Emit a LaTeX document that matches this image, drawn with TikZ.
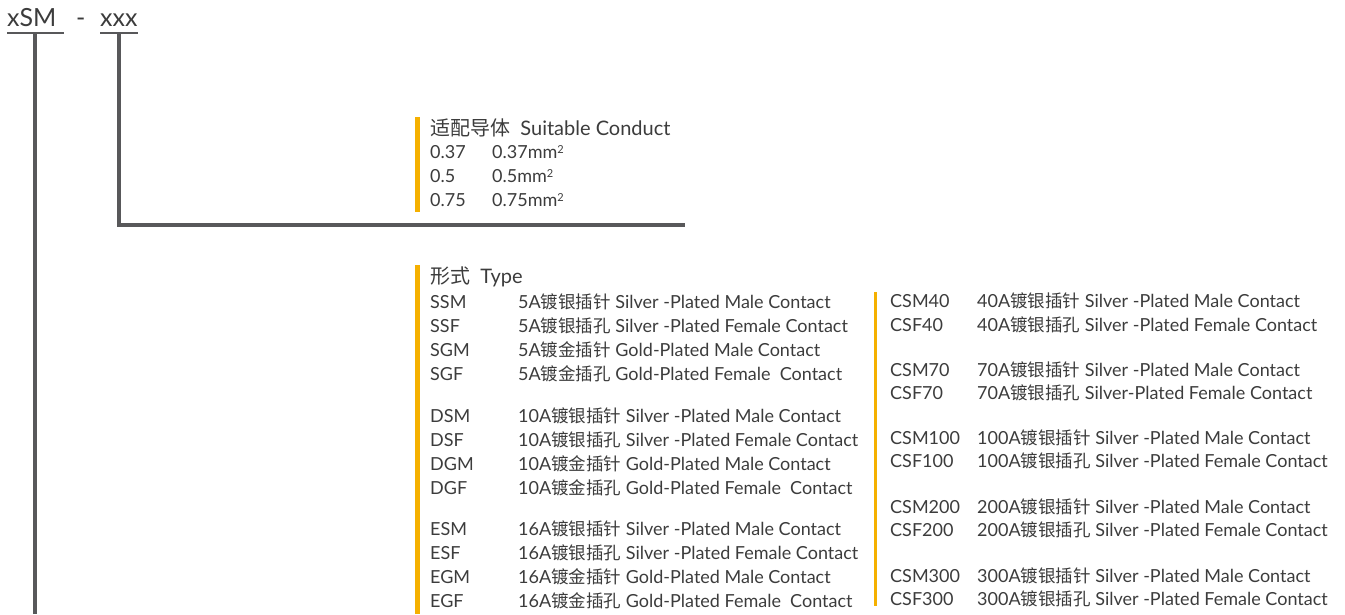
\documentclass[tikz,border=0pt]{standalone}
\usepackage{fontspec}
\setmainfont{Lato}
\newfontfamily\cjk{Noto Sans CJK SC}
\usetikzlibrary{positioning}
\definecolor{leadgray}{HTML}{58585A}
\definecolor{textgray}{HTML}{3C3C3C}
\definecolor{barorange}{HTML}{F5B000}
\newcommand{\zh}[1]{{\cjk\fontsize{17.5}{18}\selectfont #1}}
\newcommand{\zhhead}[1]{{\cjk\fontsize{20}{20}\selectfont #1}}
\newcommand{\sqmm}{mm\raisebox{5pt}{\fontsize{11}{11}\selectfont 2}}
\tikzset{
	title/.style={anchor=base west, inner sep=0pt, text=textgray, font=\fontsize{25}{26}\selectfont},
	head/.style={anchor=base west, inner sep=0pt, text=textgray, font=\fontsize{20}{22}\selectfont},
	row/.style={anchor=base west, inner sep=0pt, text=textgray, font=\fontsize{18}{20}\selectfont},
	uline/.style={draw=leadgray, line width=2pt},
	lead/.style={draw=leadgray, line width=4pt},
	bar/.style={fill=barorange}
}

\begin{document}
\begin{tikzpicture}[x=1pt, y=-1pt]
	\useasboundingbox (0,0) rectangle (1345,614);
	% part number
	\node[title] (xsm) at (7,26) {xSM};
	\node[title] (dash) at (76,26) {-};
	\node[title] (xxx) at (100,26) {xxx};
	\draw[uline] ([yshift=-7pt]xsm.base west) -- ([yshift=-7pt,xshift=7pt]xsm.base east);
	\draw[uline] ([yshift=-7pt]xxx.base west) -- ([yshift=-7pt]xxx.base east);
	\coordinate (bottom) at (0,614);
	\coordinate (condend) at (685,225);
	\draw[lead] ([yshift=-7pt,xshift=3pt]xsm.base) -- ([xshift=3pt]xsm.base |- bottom);
	\draw[lead] ([yshift=-7pt]xxx.base) |- (condend);

	% conductor block
	\fill[bar] (415,117) rectangle (420,212);
	\node[head] (condhead) at (430,135) {\zhhead{适配导体}\ \ Suitable Conduct};
	\foreach \y/\c/\d in {158/0.37/0.37, 182/0.5/0.5, 206/0.75/0.75}
	{
		\node[row] (cond\c) at (430,\y) {\c};
		\node[row] at (492,\y) {\d\sqmm};
	}

	% type block
	\fill[bar] (415,265) rectangle (420,614);
	\fill[bar] (874,292) rectangle (876.5,606);
	\node[head] (typehead) at (430,283) {\zhhead{形式}\ \ Type};
	\foreach \y/\c/\d in {
		308/SSM/{5A\zh{镀银插针} Silver -Plated Male Contact},
		332/SSF/{5A\zh{镀银插孔} Silver -Plated Female Contact},
		356/SGM/{5A\zh{镀金插针} Gold-Plated Male Contact},
		380/SGF/{5A\zh{镀金插孔} Gold-Plated Female\ \ Contact},
		422/DSM/{10A\zh{镀银插针} Silver -Plated Male Contact},
		446/DSF/{10A\zh{镀银插孔} Silver -Plated Female Contact},
		470/DGM/{10A\zh{镀金插针} Gold-Plated Male Contact},
		494/DGF/{10A\zh{镀金插孔} Gold-Plated Female\ \ Contact},
		535/ESM/{16A\zh{镀银插针} Silver -Plated Male Contact},
		559/ESF/{16A\zh{镀银插孔} Silver -Plated Female Contact},
		583/EGM/{16A\zh{镀金插针} Gold-Plated Male Contact},
		607/EGF/{16A\zh{镀金插孔} Gold-Plated Female\ \ Contact}}
	{
		\node[row] (\c) at (430,\y) {\c};
		\node[row] at (518,\y) {\d};
	}
	\foreach \y/\c/\d in {
		307/CSM40/{40A\zh{镀银插针} Silver -Plated Male Contact},
		331/CSF40/{40A\zh{镀银插孔} Silver -Plated Female Contact},
		376/CSM70/{70A\zh{镀银插针} Silver -Plated Male Contact},
		399/CSF70/{70A\zh{镀银插孔} Silver-Plated Female Contact},
		444/CSM100/{100A\zh{镀银插针} Silver -Plated Male Contact},
		467/CSF100/{100A\zh{镀银插孔} Silver -Plated Female Contact},
		513/CSM200/{200A\zh{镀银插针} Silver -Plated Male Contact},
		536/CSF200/{200A\zh{镀银插孔} Silver -Plated Female Contact},
		582/CSM300/{300A\zh{镀银插针} Silver -Plated Male Contact},
		605/CSF300/{300A\zh{镀银插孔} Silver -Plated Female Contact}}
	{
		\node[row] (\c) at (890,\y) {\c};
		\node[row] at (977,\y) {\d};
	}
\end{tikzpicture}
\end{document}
